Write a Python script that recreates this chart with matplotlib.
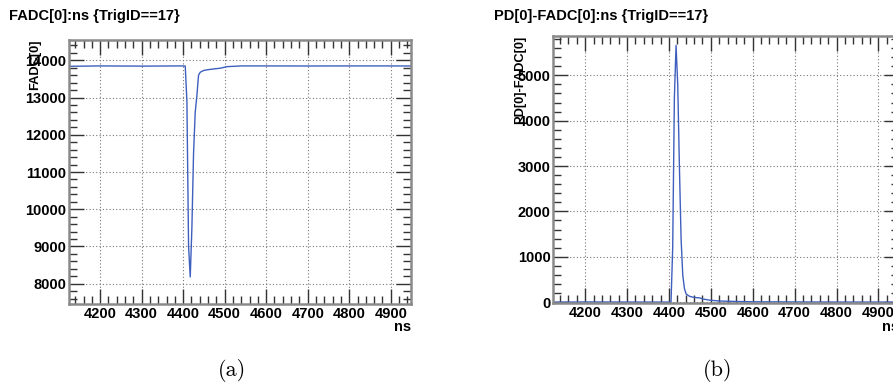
import matplotlib
matplotlib.use("Agg")
import matplotlib.pyplot as plt
from matplotlib.ticker import MultipleLocator

# FADC[0] vs ns, TrigID==17
ns_a = [4125, 4200, 4300, 4400, 4405, 4409, 4413, 4417, 4421, 4425, 4429, 4433,
        4437, 4441, 4450, 4460, 4475, 4490, 4505, 4540, 4600, 4700, 4800, 4900, 4950]
fadc_a = [13840, 13850, 13845, 13850, 13845, 12900, 9000, 8180, 9500, 11500, 12600, 13050,
          13600, 13680, 13730, 13750, 13770, 13790, 13830, 13850, 13850, 13848, 13850, 13850, 13848]

# PD[0]-FADC[0] vs ns, TrigID==17
ns_b = [4125, 4200, 4300, 4400, 4405, 4409, 4413, 4417, 4421, 4425, 4429, 4433, 4437,
        4441, 4449, 4457, 4465, 4473, 4481, 4497, 4521, 4561, 4601, 4701, 4801, 4901, 4950]
diff_b = [0, 5, 3, 2, 0, 1200, 4500, 5660, 4800, 3000, 1400, 600, 300,
          180, 130, 110, 100, 95, 70, 45, 25, 15, 8, 5, 3, 2, 2]

xticks = [4200, 4300, 4400, 4500, 4600, 4700, 4800, 4900]

plt.rcParams['font.family'] = ['Liberation Sans', 'DejaVu Sans']
line_col = '#3f5fbf'
fs = 10.5
fs_ylab = 9.3

fig = plt.figure(figsize=(8.93, 3.87), dpi=100)

def style(ax, ytick_major):
    ax.xaxis.set_major_locator(MultipleLocator(100))
    ax.xaxis.set_minor_locator(MultipleLocator(20))
    ax.yaxis.set_major_locator(MultipleLocator(ytick_major))
    ax.yaxis.set_minor_locator(MultipleLocator(ytick_major / 5))
    ax.tick_params(which='both', direction='in', top=True, right=True,
                   colors='#333333', width=1)
    ax.tick_params(which='major', length=11, pad=2)
    ax.tick_params(which='minor', length=6)
    for lab in ax.get_xticklabels() + ax.get_yticklabels():
        lab.set_fontweight('bold')
        lab.set_fontsize(fs)
        lab.set_color('black')
    for s in ax.spines.values():
        s.set_color('#8a8a8a')
        s.set_linewidth(1.8)
    ax.grid(True, which='major', color='#777777', linestyle=(0, (1, 2)), linewidth=0.8)

# panel (a)
ax1 = fig.add_axes([0.0773, 0.2145, 0.383, 0.682])
ax1.plot(ns_a, fadc_a, color=line_col, lw=1.0)
ax1.set_xlim(4125, 4949)
ax1.set_ylim(7454, 14545)
ax1.set_xticks(xticks)
style(ax1, 1000)
fig.text(9 / 893, 1 - 16 / 387, 'FADC[0]:ns {TrigID==17}', fontsize=fs,
         fontweight='bold', va='center', ha='left')
fig.text(35 / 893, 1 - 40 / 387, 'FADC[0]', rotation=90, fontsize=fs_ylab,
         fontweight='bold', va='top', ha='center')
fig.text(411 / 893, 1 - 327 / 387, 'ns', fontsize=fs, fontweight='bold',
         va='center', ha='right')
fig.text(231.7 / 893, 1 - 370 / 387, '(a)', fontsize=16, family='cmr10',
         va='center', ha='center')

# panel (b)
ax2 = fig.add_axes([0.6196, 0.2158, 0.3875, 0.691])
ax2.plot(ns_b, diff_b, color=line_col, lw=1.0)
ax2.set_xlim(4124, 4950)
ax2.set_ylim(-29, 5864)
ax2.set_xticks(xticks)
style(ax2, 1000)
fig.text(494 / 893, 1 - 16 / 387, 'PD[0]-FADC[0]:ns {TrigID==17}', fontsize=fs,
         fontweight='bold', va='center', ha='left')
fig.text(520 / 893, 1 - 36 / 387, 'PD[0]-FADC[0]', rotation=90, fontsize=fs_ylab,
         fontweight='bold', va='top', ha='center')
fig.text(899 / 893, 1 - 327 / 387, 'ns', fontsize=fs, fontweight='bold',
         va='center', ha='right')
fig.text(717.7 / 893, 1 - 370 / 387, '(b)', fontsize=16, family='cmr10',
         va='center', ha='center')

fig.savefig('out.png', dpi=100)
